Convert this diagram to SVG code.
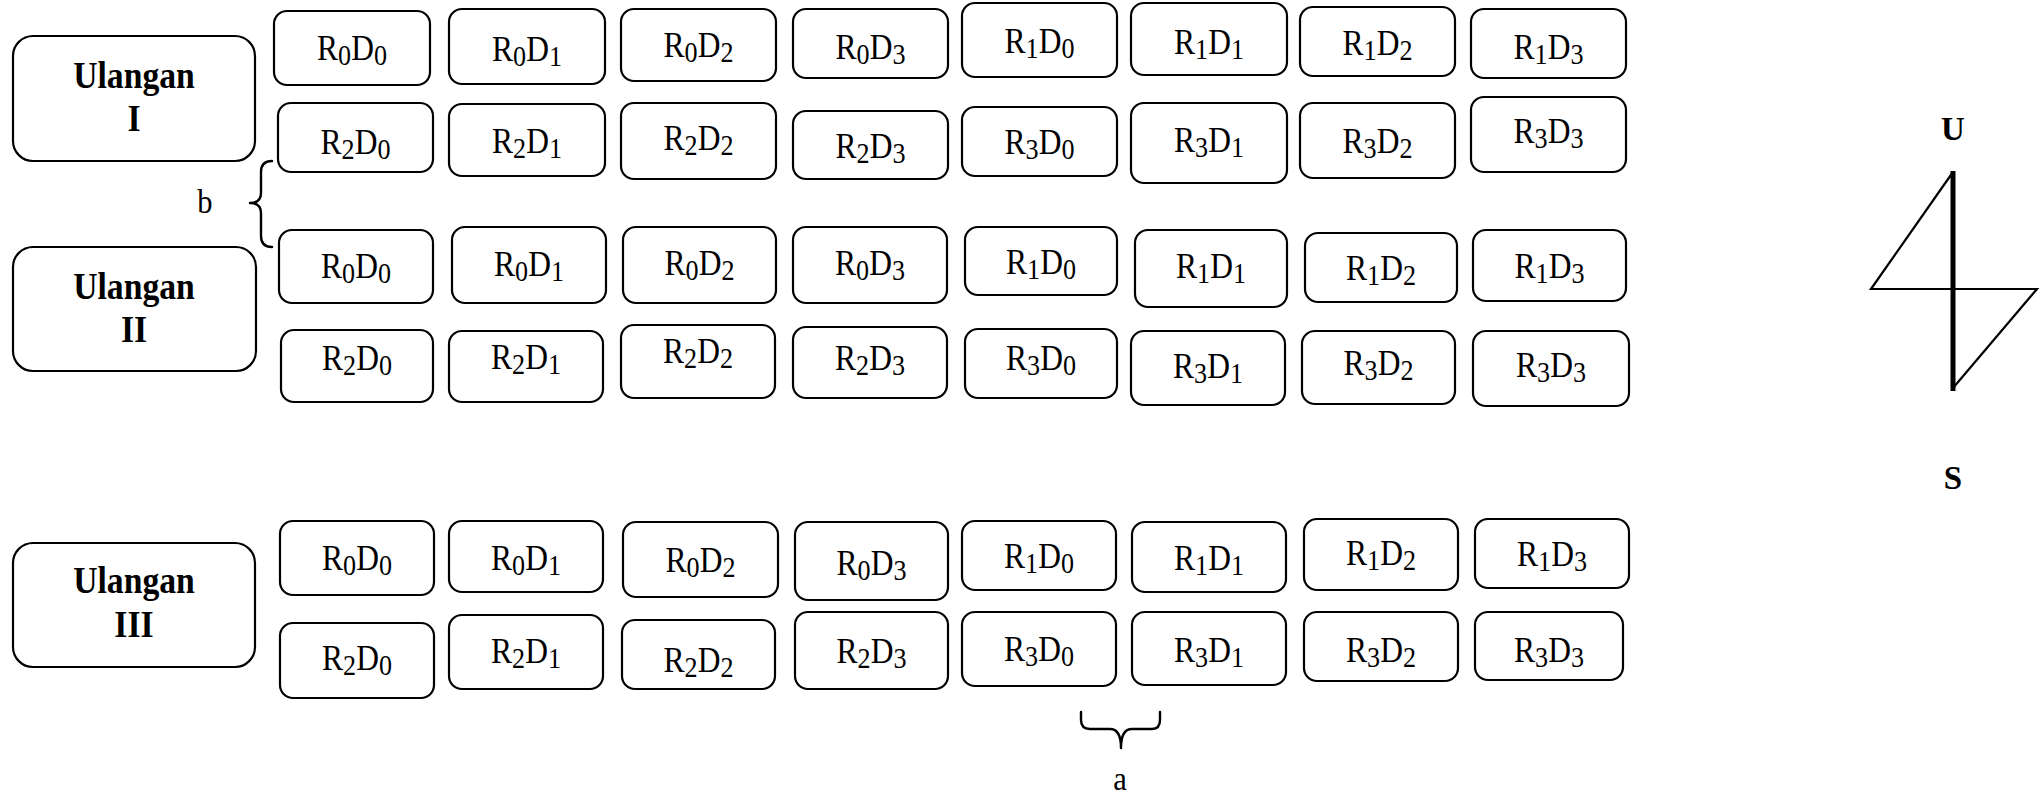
<svg xmlns="http://www.w3.org/2000/svg" width="2043" height="794" viewBox="0 0 2043 794">
<style>
.bg{fill:#fff}
.box{fill:#fff;stroke:#000;stroke-width:2.2}
.ul{fill:#fff;stroke:#000;stroke-width:2.2}
.lbl{font-family:"Liberation Serif","Times New Roman",serif;font-size:35px;text-anchor:middle;fill:#000}
.s{font-size:29px}
.hd{font-family:"Liberation Serif","Times New Roman",serif;font-size:37px;font-weight:bold;text-anchor:middle;fill:#000}
.nt{font-family:"Liberation Serif","Times New Roman",serif;font-size:33px;font-weight:bold;text-anchor:middle;fill:#000}
.br{fill:none;stroke:#000;stroke-width:2.4;stroke-linejoin:round;stroke-linecap:round}
.tx{font-family:"Liberation Serif","Times New Roman",serif;font-size:34px;text-anchor:middle;fill:#000}
</style>
<rect class="bg" x="0" y="0" width="2043" height="794"/>

<g id="ulangan-1"><rect class="ul" x="13" y="36" width="242" height="125" rx="20"/><text class="hd" transform="translate(134 88) scale(.91 1)">Ulangan</text><text class="hd" transform="translate(134 131) scale(.91 1)">I</text></g>
<g id="ulangan-2"><rect class="ul" x="13" y="247" width="243" height="124" rx="20"/><text class="hd" transform="translate(134 299) scale(.91 1)">Ulangan</text><text class="hd" transform="translate(134 342) scale(.91 1)">II</text></g>
<g id="ulangan-3"><rect class="ul" x="13" y="543" width="242" height="124" rx="20"/><text class="hd" transform="translate(134 593) scale(.91 1)">Ulangan</text><text class="hd" transform="translate(134 637) scale(.91 1)">III</text></g>

<!-- Ulangan I row a -->
<g id="u1-a1"><rect class="box" x="274" y="11" width="156" height="74" rx="13"/><text class="lbl" transform="translate(352 60) scale(.9 1)">R<tspan class="s" dy="5">0</tspan><tspan dy="-5">D</tspan><tspan class="s" dy="5">0</tspan></text></g>
<g id="u1-a2"><rect class="box" x="449" y="9" width="156" height="75" rx="13"/><text class="lbl" transform="translate(527 61) scale(.9 1)">R<tspan class="s" dy="5">0</tspan><tspan dy="-5">D</tspan><tspan class="s" dy="5">1</tspan></text></g>
<g id="u1-a3"><rect class="box" x="621" y="9" width="155" height="72" rx="13"/><text class="lbl" transform="translate(698.5 57) scale(.9 1)">R<tspan class="s" dy="5">0</tspan><tspan dy="-5">D</tspan><tspan class="s" dy="5">2</tspan></text></g>
<g id="u1-a4"><rect class="box" x="793" y="9" width="155" height="69" rx="13"/><text class="lbl" transform="translate(870.5 59) scale(.9 1)">R<tspan class="s" dy="5">0</tspan><tspan dy="-5">D</tspan><tspan class="s" dy="5">3</tspan></text></g>
<g id="u1-a5"><rect class="box" x="962" y="3" width="155" height="74" rx="13"/><text class="lbl" transform="translate(1039.5 53) scale(.9 1)">R<tspan class="s" dy="5">1</tspan><tspan dy="-5">D</tspan><tspan class="s" dy="5">0</tspan></text></g>
<g id="u1-a6"><rect class="box" x="1131" y="3" width="156" height="72" rx="13"/><text class="lbl" transform="translate(1209 54) scale(.9 1)">R<tspan class="s" dy="5">1</tspan><tspan dy="-5">D</tspan><tspan class="s" dy="5">1</tspan></text></g>
<g id="u1-a7"><rect class="box" x="1300" y="7" width="155" height="69" rx="13"/><text class="lbl" transform="translate(1377.5 55) scale(.9 1)">R<tspan class="s" dy="5">1</tspan><tspan dy="-5">D</tspan><tspan class="s" dy="5">2</tspan></text></g>
<g id="u1-a8"><rect class="box" x="1471" y="9" width="155" height="69" rx="13"/><text class="lbl" transform="translate(1548.5 59) scale(.9 1)">R<tspan class="s" dy="5">1</tspan><tspan dy="-5">D</tspan><tspan class="s" dy="5">3</tspan></text></g>

<!-- Ulangan I row b -->
<g id="u1-b1"><rect class="box" x="278" y="103" width="155" height="69" rx="13"/><text class="lbl" transform="translate(355.5 154) scale(.9 1)">R<tspan class="s" dy="5">2</tspan><tspan dy="-5">D</tspan><tspan class="s" dy="5">0</tspan></text></g>
<g id="u1-b2"><rect class="box" x="449" y="104" width="156" height="72" rx="13"/><text class="lbl" transform="translate(527 153) scale(.9 1)">R<tspan class="s" dy="5">2</tspan><tspan dy="-5">D</tspan><tspan class="s" dy="5">1</tspan></text></g>
<g id="u1-b3"><rect class="box" x="621" y="103" width="155" height="76" rx="13"/><text class="lbl" transform="translate(698.5 150) scale(.9 1)">R<tspan class="s" dy="5">2</tspan><tspan dy="-5">D</tspan><tspan class="s" dy="5">2</tspan></text></g>
<g id="u1-b4"><rect class="box" x="793" y="111" width="155" height="68" rx="13"/><text class="lbl" transform="translate(870.5 158) scale(.9 1)">R<tspan class="s" dy="5">2</tspan><tspan dy="-5">D</tspan><tspan class="s" dy="5">3</tspan></text></g>
<g id="u1-b5"><rect class="box" x="962" y="107" width="155" height="69" rx="13"/><text class="lbl" transform="translate(1039.5 154) scale(.9 1)">R<tspan class="s" dy="5">3</tspan><tspan dy="-5">D</tspan><tspan class="s" dy="5">0</tspan></text></g>
<g id="u1-b6"><rect class="box" x="1131" y="103" width="156" height="80" rx="13"/><text class="lbl" transform="translate(1209 152) scale(.9 1)">R<tspan class="s" dy="5">3</tspan><tspan dy="-5">D</tspan><tspan class="s" dy="5">1</tspan></text></g>
<g id="u1-b7"><rect class="box" x="1300" y="103" width="155" height="75" rx="13"/><text class="lbl" transform="translate(1377.5 153) scale(.9 1)">R<tspan class="s" dy="5">3</tspan><tspan dy="-5">D</tspan><tspan class="s" dy="5">2</tspan></text></g>
<g id="u1-b8"><rect class="box" x="1471" y="97" width="155" height="75" rx="13"/><text class="lbl" transform="translate(1548.5 143) scale(.9 1)">R<tspan class="s" dy="5">3</tspan><tspan dy="-5">D</tspan><tspan class="s" dy="5">3</tspan></text></g>

<!-- Ulangan II row a -->
<g id="u2-a1"><rect class="box" x="279" y="230" width="154" height="73" rx="13"/><text class="lbl" transform="translate(356 278) scale(.9 1)">R<tspan class="s" dy="5">0</tspan><tspan dy="-5">D</tspan><tspan class="s" dy="5">0</tspan></text></g>
<g id="u2-a2"><rect class="box" x="452" y="227" width="154" height="76" rx="13"/><text class="lbl" transform="translate(529 276) scale(.9 1)">R<tspan class="s" dy="5">0</tspan><tspan dy="-5">D</tspan><tspan class="s" dy="5">1</tspan></text></g>
<g id="u2-a3"><rect class="box" x="623" y="227" width="153" height="76" rx="13"/><text class="lbl" transform="translate(699.5 275) scale(.9 1)">R<tspan class="s" dy="5">0</tspan><tspan dy="-5">D</tspan><tspan class="s" dy="5">2</tspan></text></g>
<g id="u2-a4"><rect class="box" x="793" y="227" width="154" height="76" rx="13"/><text class="lbl" transform="translate(870 275) scale(.9 1)">R<tspan class="s" dy="5">0</tspan><tspan dy="-5">D</tspan><tspan class="s" dy="5">3</tspan></text></g>
<g id="u2-a5"><rect class="box" x="965" y="227" width="152" height="68" rx="13"/><text class="lbl" transform="translate(1041 274) scale(.9 1)">R<tspan class="s" dy="5">1</tspan><tspan dy="-5">D</tspan><tspan class="s" dy="5">0</tspan></text></g>
<g id="u2-a6"><rect class="box" x="1135" y="230" width="152" height="77" rx="13"/><text class="lbl" transform="translate(1211 278) scale(.9 1)">R<tspan class="s" dy="5">1</tspan><tspan dy="-5">D</tspan><tspan class="s" dy="5">1</tspan></text></g>
<g id="u2-a7"><rect class="box" x="1305" y="233" width="152" height="69" rx="13"/><text class="lbl" transform="translate(1381 280) scale(.9 1)">R<tspan class="s" dy="5">1</tspan><tspan dy="-5">D</tspan><tspan class="s" dy="5">2</tspan></text></g>
<g id="u2-a8"><rect class="box" x="1473" y="230" width="153" height="71" rx="13"/><text class="lbl" transform="translate(1549.5 278) scale(.9 1)">R<tspan class="s" dy="5">1</tspan><tspan dy="-5">D</tspan><tspan class="s" dy="5">3</tspan></text></g>

<!-- Ulangan II row b -->
<g id="u2-b1"><rect class="box" x="281" y="330" width="152" height="72" rx="13"/><text class="lbl" transform="translate(357 370) scale(.9 1)">R<tspan class="s" dy="5">2</tspan><tspan dy="-5">D</tspan><tspan class="s" dy="5">0</tspan></text></g>
<g id="u2-b2"><rect class="box" x="449" y="331" width="154" height="71" rx="13"/><text class="lbl" transform="translate(526 369) scale(.9 1)">R<tspan class="s" dy="5">2</tspan><tspan dy="-5">D</tspan><tspan class="s" dy="5">1</tspan></text></g>
<g id="u2-b3"><rect class="box" x="621" y="325" width="154" height="73" rx="13"/><text class="lbl" transform="translate(698 363) scale(.9 1)">R<tspan class="s" dy="5">2</tspan><tspan dy="-5">D</tspan><tspan class="s" dy="5">2</tspan></text></g>
<g id="u2-b4"><rect class="box" x="793" y="327" width="154" height="71" rx="13"/><text class="lbl" transform="translate(870 370) scale(.9 1)">R<tspan class="s" dy="5">2</tspan><tspan dy="-5">D</tspan><tspan class="s" dy="5">3</tspan></text></g>
<g id="u2-b5"><rect class="box" x="965" y="329" width="152" height="69" rx="13"/><text class="lbl" transform="translate(1041 370) scale(.9 1)">R<tspan class="s" dy="5">3</tspan><tspan dy="-5">D</tspan><tspan class="s" dy="5">0</tspan></text></g>
<g id="u2-b6"><rect class="box" x="1131" y="331" width="154" height="74" rx="13"/><text class="lbl" transform="translate(1208 378) scale(.9 1)">R<tspan class="s" dy="5">3</tspan><tspan dy="-5">D</tspan><tspan class="s" dy="5">1</tspan></text></g>
<g id="u2-b7"><rect class="box" x="1302" y="331" width="153" height="73" rx="13"/><text class="lbl" transform="translate(1378.5 375) scale(.9 1)">R<tspan class="s" dy="5">3</tspan><tspan dy="-5">D</tspan><tspan class="s" dy="5">2</tspan></text></g>
<g id="u2-b8"><rect class="box" x="1473" y="331" width="156" height="75" rx="13"/><text class="lbl" transform="translate(1551 377) scale(.9 1)">R<tspan class="s" dy="5">3</tspan><tspan dy="-5">D</tspan><tspan class="s" dy="5">3</tspan></text></g>

<!-- Ulangan III row a -->
<g id="u3-a1"><rect class="box" x="280" y="521" width="154" height="74" rx="13"/><text class="lbl" transform="translate(357 570) scale(.9 1)">R<tspan class="s" dy="5">0</tspan><tspan dy="-5">D</tspan><tspan class="s" dy="5">0</tspan></text></g>
<g id="u3-a2"><rect class="box" x="449" y="521" width="154" height="71" rx="13"/><text class="lbl" transform="translate(526 570) scale(.9 1)">R<tspan class="s" dy="5">0</tspan><tspan dy="-5">D</tspan><tspan class="s" dy="5">1</tspan></text></g>
<g id="u3-a3"><rect class="box" x="623" y="522" width="155" height="75" rx="13"/><text class="lbl" transform="translate(700.5 572) scale(.9 1)">R<tspan class="s" dy="5">0</tspan><tspan dy="-5">D</tspan><tspan class="s" dy="5">2</tspan></text></g>
<g id="u3-a4"><rect class="box" x="795" y="522" width="153" height="78" rx="13"/><text class="lbl" transform="translate(871.5 575) scale(.9 1)">R<tspan class="s" dy="5">0</tspan><tspan dy="-5">D</tspan><tspan class="s" dy="5">3</tspan></text></g>
<g id="u3-a5"><rect class="box" x="962" y="521" width="154" height="69" rx="13"/><text class="lbl" transform="translate(1039 568) scale(.9 1)">R<tspan class="s" dy="5">1</tspan><tspan dy="-5">D</tspan><tspan class="s" dy="5">0</tspan></text></g>
<g id="u3-a6"><rect class="box" x="1132" y="522" width="154" height="70" rx="13"/><text class="lbl" transform="translate(1209 570) scale(.9 1)">R<tspan class="s" dy="5">1</tspan><tspan dy="-5">D</tspan><tspan class="s" dy="5">1</tspan></text></g>
<g id="u3-a7"><rect class="box" x="1304" y="519" width="154" height="71" rx="13"/><text class="lbl" transform="translate(1381 565) scale(.9 1)">R<tspan class="s" dy="5">1</tspan><tspan dy="-5">D</tspan><tspan class="s" dy="5">2</tspan></text></g>
<g id="u3-a8"><rect class="box" x="1475" y="519" width="154" height="69" rx="13"/><text class="lbl" transform="translate(1552 566) scale(.9 1)">R<tspan class="s" dy="5">1</tspan><tspan dy="-5">D</tspan><tspan class="s" dy="5">3</tspan></text></g>

<!-- Ulangan III row b -->
<g id="u3-b1"><rect class="box" x="280" y="623" width="154" height="75" rx="13"/><text class="lbl" transform="translate(357 670) scale(.9 1)">R<tspan class="s" dy="5">2</tspan><tspan dy="-5">D</tspan><tspan class="s" dy="5">0</tspan></text></g>
<g id="u3-b2"><rect class="box" x="449" y="615" width="154" height="74" rx="13"/><text class="lbl" transform="translate(526 663) scale(.9 1)">R<tspan class="s" dy="5">2</tspan><tspan dy="-5">D</tspan><tspan class="s" dy="5">1</tspan></text></g>
<g id="u3-b3"><rect class="box" x="622" y="620" width="153" height="69" rx="13"/><text class="lbl" transform="translate(698.5 672) scale(.9 1)">R<tspan class="s" dy="5">2</tspan><tspan dy="-5">D</tspan><tspan class="s" dy="5">2</tspan></text></g>
<g id="u3-b4"><rect class="box" x="795" y="612" width="153" height="77" rx="13"/><text class="lbl" transform="translate(871.5 663) scale(.9 1)">R<tspan class="s" dy="5">2</tspan><tspan dy="-5">D</tspan><tspan class="s" dy="5">3</tspan></text></g>
<g id="u3-b5"><rect class="box" x="962" y="612" width="154" height="74" rx="13"/><text class="lbl" transform="translate(1039 661) scale(.9 1)">R<tspan class="s" dy="5">3</tspan><tspan dy="-5">D</tspan><tspan class="s" dy="5">0</tspan></text></g>
<g id="u3-b6"><rect class="box" x="1132" y="612" width="154" height="73" rx="13"/><text class="lbl" transform="translate(1209 662) scale(.9 1)">R<tspan class="s" dy="5">3</tspan><tspan dy="-5">D</tspan><tspan class="s" dy="5">1</tspan></text></g>
<g id="u3-b7"><rect class="box" x="1304" y="612" width="154" height="69" rx="13"/><text class="lbl" transform="translate(1381 662) scale(.9 1)">R<tspan class="s" dy="5">3</tspan><tspan dy="-5">D</tspan><tspan class="s" dy="5">2</tspan></text></g>
<g id="u3-b8"><rect class="box" x="1475" y="612" width="148" height="68" rx="13"/><text class="lbl" transform="translate(1549 662) scale(.9 1)">R<tspan class="s" dy="5">3</tspan><tspan dy="-5">D</tspan><tspan class="s" dy="5">3</tspan></text></g>

<g id="braces">
<path class="br" d="M272,161 Q261,161 261,172 L261,193 Q261,203 250,203 Q261,203 261,213 L261,236 Q261,247 272,247"/>
<text class="tx" transform="translate(205 213) scale(.9 1)">b</text>
<path class="br" d="M1081,712 L1081,720 Q1081,729 1090,729 L1110,729 Q1121,729 1121,748 Q1121,729 1132,729 L1152,729 Q1160,729 1160,720 L1160,712"/>
<text class="tx" transform="translate(1120 790) scale(.9 1)">a</text>
</g>

<g id="north-symbol">
<text class="nt" x="1953" y="140">U</text>
<polyline fill="none" stroke="#000" stroke-width="2.2" stroke-linejoin="miter" points="1953,172 1871,289 2037,289 1953,388"/>
<line x1="1953" y1="171" x2="1953" y2="391" stroke="#000" stroke-width="5"/>
<text class="nt" x="1953" y="489">S</text>
</g>
</svg>
